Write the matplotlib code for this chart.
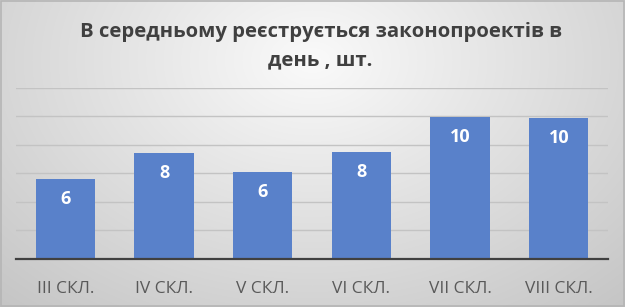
import numpy as np
import matplotlib
matplotlib.use("Agg")
import matplotlib.pyplot as plt
from matplotlib.patches import Rectangle

categories = ["III СКЛ.", "IV СКЛ.", "V СКЛ.", "VI СКЛ.", "VII СКЛ.", "VIII СКЛ."]
values = [5.64, 7.47, 6.13, 7.54, 9.95, 9.86]
labels = ["6", "8", "6", "8", "10", "10"]
title = "В середньому реєструється законопроектів в\nдень , шт."

plt.rcParams['font.family'] = ['Open Sans', 'DejaVu Sans']

fig = plt.figure(figsize=(6.25, 3.07), dpi=100)

# radial gradient background
bg = fig.add_axes([0, 0, 1, 1], zorder=0)
yy, xx = np.mgrid[0:307, 0:625]
d = np.sqrt(((xx - 312) / 420.0) ** 2 + ((yy - 60) / 300.0) ** 2)
g = np.clip(250 - 48 * d, 196, 250) / 255.0
img = np.dstack([g, g, g])
bg.imshow(img, aspect='auto', extent=[0, 1, 0, 1], origin='upper')
bg.set_axis_off()
fig.patches.append(Rectangle((0.001, 0.002), 0.997, 0.995, transform=fig.transFigure,
                             fill=False, edgecolor='#b5b5b5', linewidth=1.2))

ax = fig.add_axes([0.0256, 0.1564, 0.9474, 0.557], zorder=1)
ax.patch.set_alpha(0)
x = np.arange(len(categories))
bars = ax.bar(x, values, width=0.6, color='#5981CA', zorder=2)
ax.set_xlim(-0.5, len(categories) - 0.5)
ax.set_ylim(0, 12)
ax.set_yticks(np.arange(0, 13, 2))
ax.yaxis.grid(True, color='#c3c3c3', linewidth=1.0, zorder=0)
ax.set_axisbelow(True)
ax.tick_params(axis='y', left=False, labelleft=False)
ax.tick_params(axis='x', bottom=False, labelsize=12.5, labelcolor='#595959', pad=12)
ax.set_xticks(x)
ax.set_xticklabels(categories)
for s in ['left', 'right', 'top']:
    ax.spines[s].set_visible(False)
ax.spines['bottom'].set_color('#404040')
ax.spines['bottom'].set_linewidth(1.6)
ax.spines['bottom'].set_zorder(3)

for xi, v, lab in zip(x, values, labels):
    ax.annotate(lab, (xi, v), xytext=(0, -20), textcoords='offset pixels',
                ha='center', va='center', color='white', fontsize=13, fontweight='bold', zorder=4)

fig.text(0.513, 0.85, title, ha='center', va='center', fontsize=14.6, fontweight='bold',
         color='#404040', linespacing=1.6)

fig.savefig("out.png", dpi=100)
